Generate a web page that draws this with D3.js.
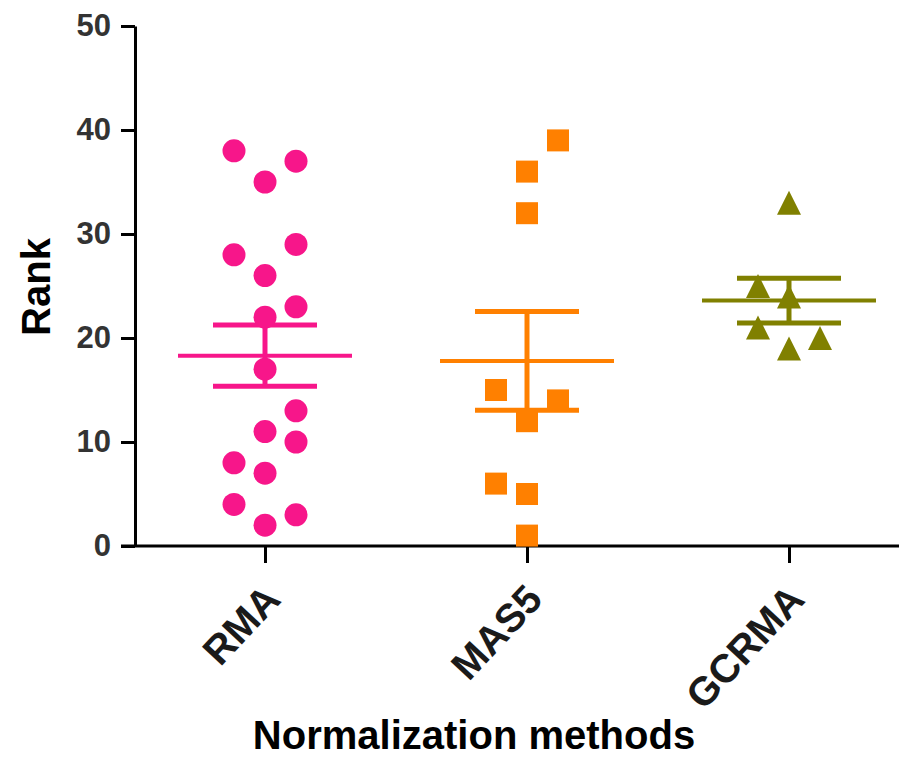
<!DOCTYPE html>
<html>
<head>
<meta charset="utf-8">
<script src="https://cdn.jsdelivr.net/npm/d3@7"></script>
<style>
  body { margin: 0; background: #fff; }
  svg { display: block; }
</style>
</head>
<body>
<svg id="chart"></svg>
<script>
var width = 899;
var height = 757;

// data
var categories = ['RMA', 'MAS5', 'GCRMA'];
var rmaValues = [38, 37, 35, 29, 28, 26, 23, 22, 17, 13, 11, 10, 8, 7, 4, 3, 2];
var rmaColumn = [-1, 1, 0, 1, -1, 0, 1, 0, 0, 1, 0, 1, -1, 0, -1, 1, 0];
var mas5Values = [39, 36, 32, 15, 14, 12, 6, 5, 1];
var mas5Column = [1, 0, 0, -1, 1, 0, -1, 0, 0];
var gcrmaValues = [33, 25, 24, 21, 20, 19];
var gcrmaColumn = [0, -1, 0, -1, 1, 0];
var groupMeans = [18.3, 17.8, 23.6];
var groupSems = [2.95, 4.75, 2.15];
var yTicks = [0, 10, 20, 30, 40, 50];

var colors = ['#f7168a', '#ff8000', '#808000'];
var font = '"Liberation Sans", Arial, sans-serif';

var svg = d3.select('#chart')
  .attr('width', width)
  .attr('height', height);

var y = d3.scaleLinear().domain([0, 50]).range([546, 26]);
var x = d3.scalePoint().domain(categories).range([265, 789]);
var lane = d3.scaleLinear().domain([-1, 1]).range([-31, 31]);

// triangle marker, a bit taller than the equilateral one
var tallTriangle = {
  draw: function(context, size) {
    var h = Math.sqrt(size) / 2;
    context.moveTo(0, -h);
    context.lineTo(h, h);
    context.lineTo(-h, h);
    context.closePath();
  }
};

var groups = [
  { name: 'RMA', values: rmaValues, column: rmaColumn, symbol: d3.symbol(d3.symbolCircle, Math.PI * 11.5 * 11.5) },
  { name: 'MAS5', values: mas5Values, column: mas5Column, symbol: d3.symbol(d3.symbolSquare, 22 * 22) },
  { name: 'GCRMA', values: gcrmaValues, column: gcrmaColumn, symbol: d3.symbol(tallTriangle, 24 * 24) }
];

// y axis
var yAxis = svg.append('g')
  .attr('transform', 'translate(135,0)')
  .call(d3.axisLeft(y).tickValues(yTicks).tickSize(14).tickSizeOuter(0).tickPadding(10));
yAxis.select('.domain').attr('stroke', '#000').attr('stroke-width', 3);
yAxis.selectAll('.tick line').attr('stroke', '#000').attr('stroke-width', 3);
yAxis.selectAll('.tick text')
  .attr('fill', '#333')
  .style('font-family', font)
  .style('font-weight', 'bold')
  .style('font-size', '31px');

// x axis
svg.append('line')
  .attr('x1', 121).attr('x2', width)
  .attr('y1', y(0)).attr('y2', y(0))
  .attr('stroke', '#000').attr('stroke-width', 3);

var xAxis = svg.append('g')
  .attr('transform', 'translate(0,' + y(0) + ')')
  .call(d3.axisBottom(x).tickSize(17).tickSizeOuter(0));
xAxis.select('.domain').remove();
xAxis.selectAll('.tick line').attr('stroke', '#000').attr('stroke-width', 3);
xAxis.selectAll('.tick text')
  .attr('fill', '#1a1a1a')
  .attr('text-anchor', 'end')
  .attr('dy', null)
  .attr('y', 0)
  .attr('transform', 'translate(17,55) rotate(-47)')
  .style('font-family', font)
  .style('font-weight', 'bold')
  .style('font-size', '40px');

// points
groups.forEach(function(g, i) {
  var cx = x(g.name);
  svg.append('g')
    .selectAll('path')
    .data(g.values)
    .join('path')
    .attr('d', g.symbol)
    .attr('fill', colors[i])
    .attr('transform', function(d, j) {
      return 'translate(' + (cx + lane(g.column[j])) + ',' + y(d) + ')';
    });
});

// mean and SEM
groups.forEach(function(g, i) {
  var cx = x(g.name);
  var m = groupMeans[i], s = groupSems[i];
  var sg = svg.append('g').attr('stroke', colors[i]);

  sg.append('line')
    .attr('x1', cx).attr('x2', cx)
    .attr('y1', y(m + s)).attr('y2', y(m - s))
    .attr('stroke-width', 5);
  sg.selectAll('line.cap')
    .data([m + s, m - s])
    .join('line')
    .attr('class', 'cap')
    .attr('x1', cx - 52).attr('x2', cx + 52)
    .attr('y1', function(d) { return y(d); })
    .attr('y2', function(d) { return y(d); })
    .attr('stroke-width', 5);
  sg.append('line')
    .attr('x1', cx - 87).attr('x2', cx + 87)
    .attr('y1', y(m)).attr('y2', y(m))
    .attr('stroke-width', 4);
});

// axis titles
svg.append('text')
  .attr('transform', 'translate(50,287) rotate(-90)')
  .attr('text-anchor', 'middle')
  .style('font-family', font)
  .style('font-weight', 'bold')
  .style('font-size', '40px')
  .text('Rank');

svg.append('text')
  .attr('x', 474)
  .attr('y', 749)
  .attr('text-anchor', 'middle')
  .style('font-family', font)
  .style('font-weight', 'bold')
  .style('font-size', '40px')
  .text('Normalization methods');
</script>
</body>
</html>
